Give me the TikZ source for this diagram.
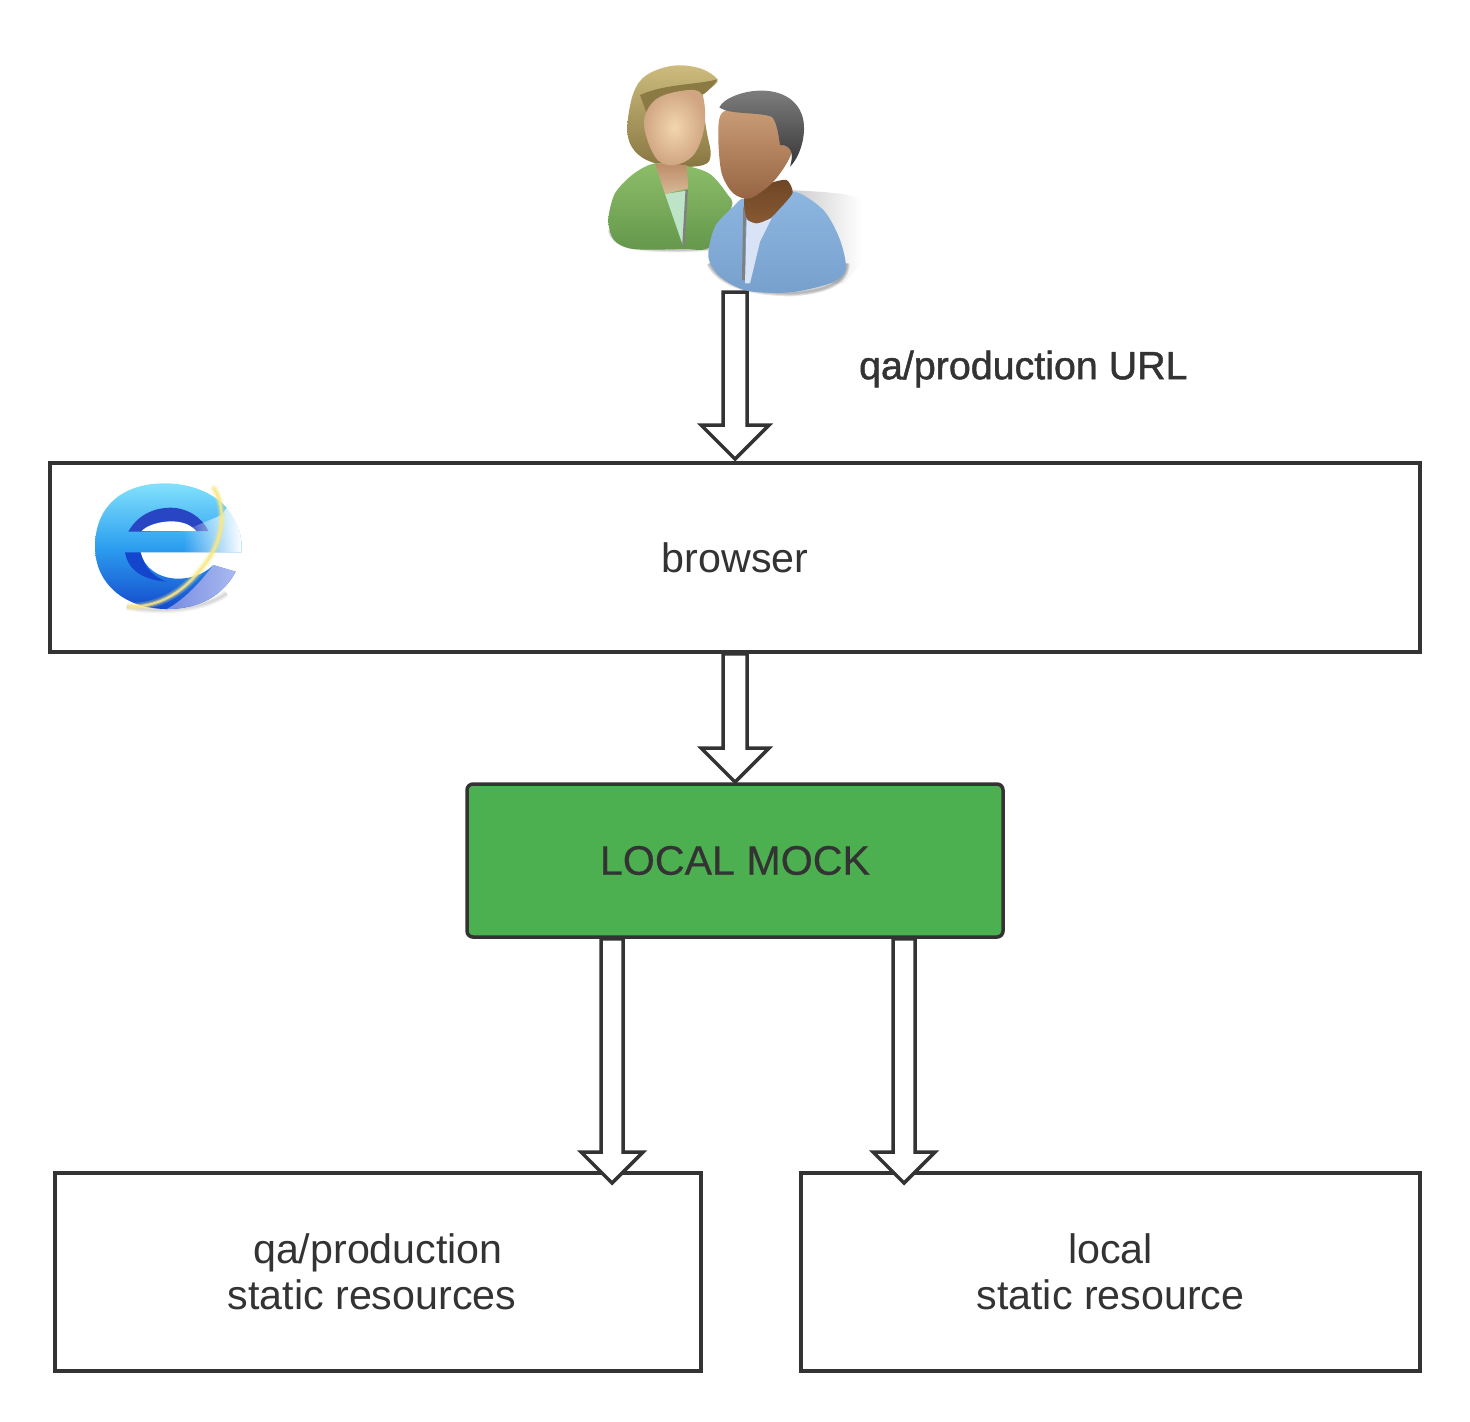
\documentclass[tikz,border=0pt]{standalone}
\usepackage{fontspec}
\setmainfont{Liberation Sans}
\newfontfamily\labelfont[FakeBold=1.2]{Liberation Sans}
\newfontfamily\mockfont[FakeBold=0.4]{Liberation Sans}
\usetikzlibrary{positioning, calc, fadings}
\definecolor{inkgray}{HTML}{333333}
\definecolor{mockgreen}{HTML}{4CB050}
\tikzset{
  box/.style = {draw = inkgray, line width = 1.75pt, fill = white, text = inkgray, align = center, font = \fontsize{20.6}{23}\selectfont},
  blockline/.style = {draw = inkgray, fill = white, line width = 1.75pt, line join = miter},
}
% block arrow: tail, tip, half width, half head width, head length
\newcommand{\blockarrow}[5]{
  \draw[blockline] ($(#1)+(-#3,0)$) -- ($(#1)+(#3,0)$) -- ($(#2)+(#3,-#5)$) -- ($(#2)+(#4,-#5)$) -- (#2)
    -- ($(#2)+(-#4,-#5)$) -- ($(#2)+(-#3,-#5)$) -- cycle;
}
\begin{document}
\begin{tikzpicture}[x = 0.5pt, y = -0.5pt]
\useasboundingbox (0, 0) rectangle (1470, 1421);
\fill[white] (0, 0) rectangle (1470, 1421);

% boxes
\node[box, minimum width = 685pt, minimum height = 94.5pt] (browser) at (735, 557.5) {browser};
\node[box, fill = mockgreen, rounded corners = 3pt, minimum width = 268pt, minimum height = 76.5pt, font = \mockfont\fontsize{20.6}{23}\selectfont] (mock) at (735, 860.5) {LOCAL MOCK};
\node[box, minimum width = 323pt, minimum height = 99pt] (qares) at (378, 1272) {qa/production\\static resources\rule{6pt}{0pt}};
\node[box, minimum width = 309.5pt, minimum height = 99pt] (localres) at (1110.5, 1272) {local\\static resource};
\node[text = inkgray, font = \labelfont\fontsize{19.7}{22}\selectfont, anchor = west] (urllabel) at (852, 369) {qa/production URL};

% arrows
\coordinate (users) at (735, 292);
\coordinate (browsertip) at (735, 459);
\coordinate (mocktip) at (735, 782);
\coordinate (qatail) at ($(mock.south)+(-123, 0)$);
\coordinate (qatip) at (612, 1183);
\coordinate (localtail) at ($(mock.south)+(169, 0)$);
\coordinate (localtip) at (904, 1183);
\blockarrow{users}{browsertip}{12}{34}{34}
\blockarrow{browser.south}{mocktip}{12}{34}{34}
\blockarrow{qatail}{qatip}{11}{31}{31}
\blockarrow{localtail}{localtip}{11}{31}{31}

% users icon, drawn on the 3x crop grid
\begin{scope}[shift = {(590, 50)}, x = 0.16667pt, y = -0.16667pt]
\shade[left color = black!22, right color = white] (590, 420) .. controls (700, 425) and (790, 430) .. (815, 450) -- (815, 640) -- (760, 700) -- (590, 700) -- cycle;
% woman
\foreach \w in {14, 9, 5} {
  \draw[black, opacity = 0.08, line width = \w*0.17pt] (60, 540) .. controls (70, 590) and (130, 600) .. (280, 600) -- (370, 595);
}
\shade[top color = {rgb,255:red,205;green,188;blue,125}, bottom color = {rgb,255:red,135;green,118;blue,65}]
  plot[smooth cycle, tension = 0.6] coordinates {(112, 230) (130, 130) (170, 75) (250, 47) (330, 55) (382, 88) (365, 112) (340, 130) (345, 210) (352, 255) (362, 315) (340, 345) (250, 350) (170, 330) (125, 290)};
\shade[top color = {rgb,255:red,140;green,190;blue,105}, bottom color = {rgb,255:red,100;green,150;blue,75}]
  plot[smooth cycle, tension = 0.5] coordinates {(55, 510) (75, 430) (130, 372) (195, 340) (290, 348) (360, 372) (410, 430) (425, 470) (360, 590) (280, 597) (130, 597) (72, 570)};
\shade[top color = {rgb,255:red,190;green,140;blue,105}, bottom color = {rgb,255:red,215;green,185;blue,150}] (195, 340) -- (290, 345) -- (295, 415) -- (225, 432) -- cycle;
\fill[color = {rgb,255:red,190;green,228;blue,200}] (225, 432) -- (290, 422) -- (280, 590) -- cycle;
\draw[gray, line width = 1.2pt] (290, 420) -- (280, 590);
\fill[color = {rgb,255:red,140;green,122;blue,68}] (150, 135) .. controls (230, 100) and (320, 105) .. (382, 88) .. controls (370, 110) and (355, 120) .. (345, 130) -- (170, 190) -- cycle;
\shade[inner color = {rgb,255:red,242;green,214;blue,172}, outer color = {rgb,255:red,208;green,165;blue,130}]
  plot[smooth cycle, tension = 0.6] coordinates {(163, 205) (195, 150) (260, 125) (328, 125) (345, 180) (338, 255) (308, 318) (255, 345) (205, 332) (172, 270)};
% man
\foreach \w in {18, 12, 6} {
  \draw[black, opacity = 0.1, line width = \w*0.17pt] (358, 640) .. controls (390, 700) and (470, 727) .. (600, 730) .. controls (700, 725) and (770, 700) .. (770, 640);
}
\shade[top color = {rgb,255:red,140;green,182;blue,224}, middle color = {rgb,255:red,160;green,198;blue,232}, bottom color = {rgb,255:red,120;green,160;blue,205}]
  plot[smooth cycle, tension = 0.5] coordinates {(355, 620) (375, 530) (430, 470) (465, 445) (545, 480) (610, 425) (700, 480) (750, 570) (767, 660) (720, 700) (600, 727) (470, 722) (390, 680)};
\fill[color = {rgb,255:red,216;green,228;blue,246}] (470, 510) -- (500, 520) -- (545, 505) -- (510, 575) -- (480, 700) -- (465, 700) -- cycle;
\draw[gray, line width = 1.4pt] (464, 470) -- (460, 690);
\shade[top color = {rgb,255:red,110;green,70;blue,38}, bottom color = {rgb,255:red,135;green,88;blue,50}]
  plot[smooth cycle, tension = 0.4] coordinates {(465, 440) (540, 400) (590, 390) (608, 428) (570, 475) (540, 505) (500, 520) (470, 505)};
\shade[top color = {rgb,255:red,205;green,160;blue,122}, bottom color = {rgb,255:red,150;green,100;blue,65}]
  plot[smooth cycle, tension = 0.5] coordinates {(385, 265) (395, 190) (470, 165) (558, 175) (575, 282) (610, 288) (590, 340) (545, 400) (480, 445) (430, 430) (395, 370)};
\shade[top color = {rgb,255:red,125;green,125;blue,125}, bottom color = {rgb,255:red,55;green,55;blue,55}]
  (388, 172) .. controls (400, 145) and (460, 122) .. (510, 122) .. controls (590, 120) and (645, 165) .. (642, 240)
  .. controls (640, 290) and (620, 330) .. (600, 350) .. controls (612, 310) and (605, 285) .. (570, 285)
  .. controls (565, 250) and (560, 215) .. (545, 200) .. controls (500, 185) and (420, 195) .. (388, 172) -- cycle;
\end{scope}

% browser icon, same grid
\begin{scope}[shift = {(70, 465)}, x = 0.16667pt, y = -0.16667pt]
\foreach \w in {20, 12, 6} {
  \draw[black, opacity = 0.05, line width = \w*0.17pt] (170, 425) .. controls (270, 445) and (400, 435) .. (470, 385);
}
\shade[top color = {rgb,255:red,130;green,225;blue,252}, bottom color = {rgb,255:red,20;green,75;blue,205}, middle color = {rgb,255:red,45;green,160;blue,240}]
  (515, 262) .. controls (520, 120) and (400, 55) .. (285, 55) .. controls (150, 55) and (75, 130) .. (75, 245)
  .. controls (75, 360) and (170, 432) .. (290, 432) .. controls (390, 432) and (460, 390) .. (497, 320)
  -- (430, 300) .. controls (370, 360) and (240, 360) .. (210, 262) -- cycle;
\fill[color = {rgb,255:red,40;green,70;blue,195}] (175, 200) .. controls (205, 145) and (260, 128) .. (300, 128) .. controls (350, 128) and (395, 155) .. (415, 198) -- cycle;
\fill[white] (215, 198) .. controls (240, 170) and (340, 150) .. (378, 198) -- cycle;
\fill[color = {rgb,255:red,20;green,70;blue,205}] (165, 262) -- (212, 262) .. controls (225, 310) and (250, 335) .. (290, 350) .. controls (225, 345) and (175, 320) .. cycle;
\fill[white, path fading = west] (340, 198) -- (455, 150) -- (475, 120) .. controls (505, 165) and (516, 215) .. (515, 262) -- (340, 262) -- cycle;
\shade[left color = {rgb,255:red,120;green,140;blue,225}, right color = {rgb,255:red,170;green,185;blue,240}]
  (430, 300) -- (497, 320) .. controls (460, 390) and (390, 432) .. (290, 432) .. controls (350, 400) and (400, 340) .. cycle;
\foreach \w/\o in {22/0.25, 12/0.45, 6/0.8} {
  \draw[color = {rgb,255:red,250;green,232;blue,130}, opacity = \o, line width = \w*0.17pt, line cap = round] (432, 70) .. controls (470, 130) and (460, 220) .. (410, 290) .. controls (360, 360) and (290, 425) .. (180, 425);
}
\end{scope}
\end{tikzpicture}
\end{document}
